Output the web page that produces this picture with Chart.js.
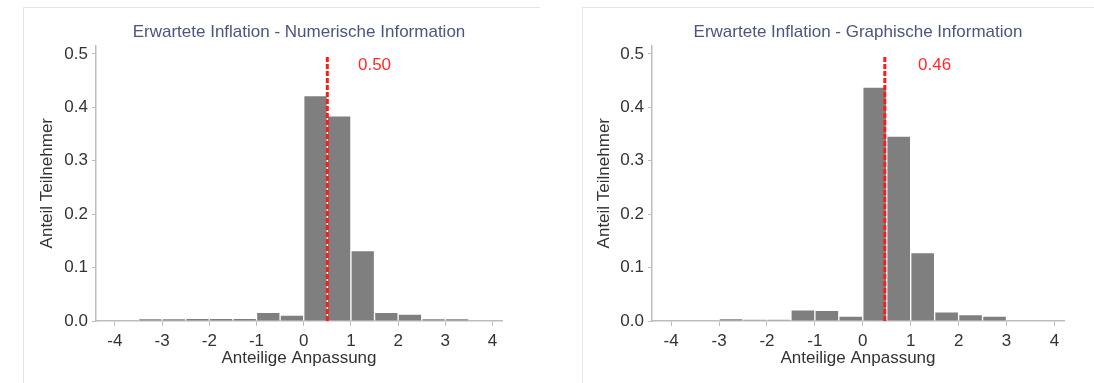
<!DOCTYPE html>
<html>
<head>
<meta charset="utf-8">
<script src="https://cdn.jsdelivr.net/npm/chart.js@4/dist/chart.umd.min.js"></script>
<style>
  body { margin: 0; background: #fff; width: 1094px; height: 383px; overflow: hidden; position: relative; }
  .frame { position: absolute; top: 7px; height: 400px; border-left: 1px solid #e4e4e4; border-top: 1px solid #e4e4e4; }
  canvas { position: absolute; }
</style>
</head>
<body>
<div class="frame" style="left:23px;width:516px"></div>
<div class="frame" style="left:582px;width:520px"></div>
<canvas id="leftChart" width="500" height="362" style="left:23px;top:7px"></canvas>
<canvas id="rightChart" width="510" height="362" style="left:582px;top:7px"></canvas>
<script>
// bin centres of the 0.5-wide histogram bins
const binCenters = [-3.25, -2.75, -2.25, -1.75, -1.25, -0.75, -0.25, 0.25, 0.75, 1.25, 1.75, 2.25, 2.75, 3.25];
const numericShares = [0.004, 0.004, 0.005, 0.005, 0.005, 0.016, 0.011, 0.422, 0.384, 0.132, 0.016, 0.013, 0.004, 0.004];
const graphicShares = [0, 0.004, 0.0025, 0.0025, 0.021, 0.020, 0.009, 0.438, 0.346, 0.128, 0.017, 0.012, 0.009, 0];
const numericMedian = 0.50;
const graphicMedian = 0.46;
const xTicks = [-4, -3, -2, -1, 0, 1, 2, 3, 4];
const yTicks = [0, 0.1, 0.2, 0.3, 0.4, 0.5];

const axisColor = "#bdbdbd";
const textColor = "#333333";
const fontFamily = "'Liberation Sans', Arial, sans-serif";

const medianLabel = {
  id: "medianLabel",
  afterDatasetsDraw(chart, args, opts) {
    const { ctx, scales } = chart;
    ctx.save();
    ctx.fillStyle = "#ff2a2a";
    ctx.font = "17px " + fontFamily;
    ctx.textAlign = "center";
    ctx.textBaseline = "middle";
    ctx.fillText(opts.text, scales.x.getPixelForValue(1.5), scales.y.getPixelForValue(0.479));
    ctx.restore();
  },
};

function makeChart(id, title, shares, median, yWidth, yTitlePad, rightPad) {
  const ctx = document.getElementById(id).getContext("2d");
  return new Chart(ctx, {
    type: "bar",
    data: {
      datasets: [
        {
          type: "line",
          data: [{ x: median, y: 0 }, { x: median, y: 0.495 }],
          borderColor: "#ff1a1a",
          borderWidth: 3,
          borderDash: [5, 2],
          pointRadius: 0,
          order: 0,
        },
        {
          data: binCenters.map((c, i) => ({ x: c, y: shares[i] })),
          backgroundColor: "#7f7f7f",
          borderColor: "#ffffff",
          borderWidth: 1,
          barPercentage: 1,
          categoryPercentage: 1,
          order: 1,
        },
      ],
    },
    options: {
      responsive: false,
      animation: false,
      devicePixelRatio: 1,
      layout: { padding: { top: 0, left: 0, right: rightPad, bottom: 0 } },
      plugins: {
        legend: { display: false },
        tooltip: { enabled: false },
        title: {
          display: true,
          fullSize: false,
          text: title,
          color: "#4a5680",
          font: { family: fontFamily, size: 17, weight: "normal" },
          padding: { top: 15, bottom: 3 },
        },
        medianLabel: { text: median.toFixed(2) },
      },
      scales: {
        x: {
          type: "linear",
          offset: false,
          min: -4.4,
          max: 4.2,
          afterBuildTicks: (s) => { s.ticks = xTicks.map((v) => ({ value: v })); },
          afterFit: (s) => { s.height = 48; },
          grid: { offset: false, drawOnChartArea: false, drawTicks: true, tickLength: 5, color: axisColor },
          border: { color: axisColor, width: 1.5 },
          ticks: { color: textColor, padding: 5, font: { family: fontFamily, size: 17 }, maxRotation: 0 },
          title: {
            display: true,
            text: "Anteilige Anpassung",
            color: textColor,
            font: { family: fontFamily, size: 17 },
            padding: { top: 0, bottom: 0 },
          },
        },
        y: {
          min: 0,
          max: 0.516,
          afterBuildTicks: (s) => { s.ticks = yTicks.map((v) => ({ value: v })); },
          afterFit: (s) => { s.width = yWidth; },
          grid: { drawOnChartArea: false, drawTicks: true, tickLength: 4, color: axisColor },
          border: { color: axisColor, width: 1.5 },
          ticks: { color: textColor, padding: 4, font: { family: fontFamily, size: 17 }, callback: (v) => v.toFixed(1) },
          title: {
            display: true,
            text: "Anteil Teilnehmer",
            color: textColor,
            font: { family: fontFamily, size: 17 },
            padding: { top: yTitlePad, bottom: 0 },
          },
        },
      },
    },
    plugins: [medianLabel],
  });
}

makeChart("leftChart", "Erwartete Inflation - Numerische Information", numericShares, numericMedian, 73, 14, 21);
makeChart("rightChart", "Erwartete Inflation - Graphische Information", graphicShares, graphicMedian, 70, 12, 28);
</script>
</body>
</html>
